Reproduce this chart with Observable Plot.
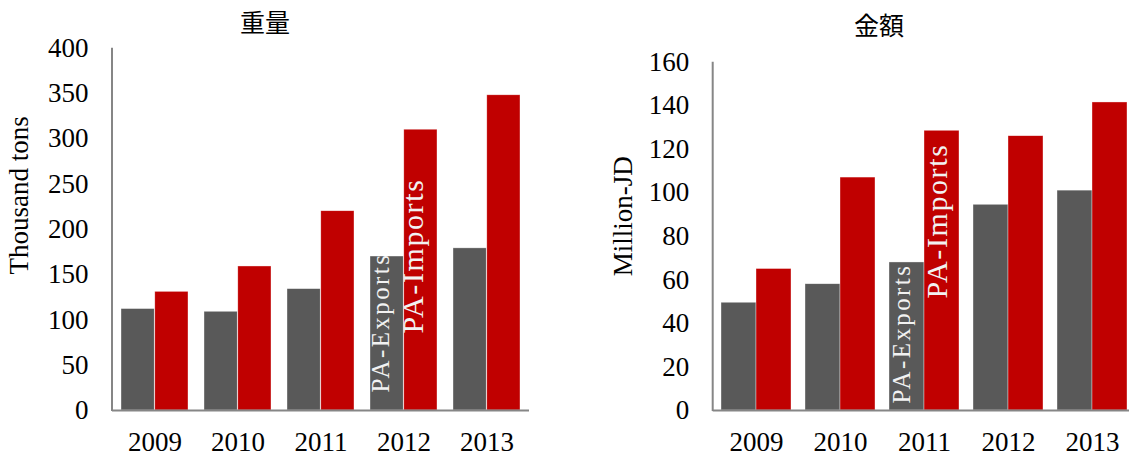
<!DOCTYPE html>
<html><head><meta charset="utf-8">
<script src="https://cdn.jsdelivr.net/npm/d3@7"></script>
<script src="https://cdn.jsdelivr.net/npm/@observablehq/plot@0.6"></script>
<style>
  body{margin:0;width:1129px;height:457px;overflow:hidden;background:#fff;position:relative;
       font-family:"Liberation Serif","Noto Sans CJK JP",serif;}
  .panel{position:absolute;top:0;}
  .title{height:30px;position:relative;}
  .title span{position:absolute;font-size:25px;line-height:30px;white-space:nowrap;transform:translateX(-50%);
       font-family:"Noto Sans CJK JP","Liberation Serif",serif;color:#000;}
  svg{max-width:none !important;display:block;overflow:visible;}
</style>
</head><body>
<div id="left" class="panel" style="left:0;width:560px"><div class="title"><span style="left:265px;top:6px">重量</span></div></div>
<div id="right" class="panel" style="left:560px;width:580px"><div class="title"><span style="left:319px;top:9px">金額</span></div></div>
<script>
const years = ["2009","2010","2011","2012","2013"];
const weightExports = [112,109,134,170,179];
const weightImports = [131,159,220,310,348];
const valueExports = [49.5,58,68,94.5,101];
const valueImports = [65,107,128.5,126,141.5];
const weightTicks = [0,50,100,150,200,250,300,350,400];
const valueTicks = [0,20,40,60,80,100,120,140,160];
const weightAxisTitle = "Thousand tons";
const valueAxisTitle = "Million-JD";
const seriesNames = ["PA-Exports","PA-Imports"];
const weightLabelYear = "2012";
const valueLabelYear = "2011";

const GRAY = "#595959", RED = "#C00000", AXIS = "#868686";

function axisLine(index, scales, values, dim) {
  const l = document.createElementNS("http://www.w3.org/2000/svg","line");
  l.setAttribute("x1", dim.marginLeft); l.setAttribute("x2", dim.marginLeft);
  l.setAttribute("y1", dim.marginTop); l.setAttribute("y2", dim.height - dim.marginBottom + 1);
  l.setAttribute("stroke", AXIS); l.setAttribute("stroke-width", 2);
  return l;
}

function panel(cfg) {
  const rows = years.map((y,i)=>({year:y, exp:cfg.exp[i], imp:cfg.imp[i]}));
  const half = cfg.half;
  const svg = Plot.plot({
    width: cfg.width, height: 427,
    marginLeft: cfg.marginLeft, marginRight: cfg.marginRight,
    marginTop: cfg.marginTop, marginBottom: 47,
    style: {fontFamily: '"Liberation Serif", serif', fontSize: "27px", color: "#000", background: "transparent"},
    x: {type: "band", domain: years, paddingInner: cfg.pi, paddingOuter: cfg.po},
    y: {domain: [0, cfg.ticks[cfg.ticks.length-1]]},
    marks: [
      Plot.barY(rows, {x: "year", y: "exp", fill: GRAY, insetRight: half, stroke: "#fff", strokeWidth: 0.6, strokeOpacity: 0.6}),
      Plot.barY(rows, {x: "year", y: "imp", fill: RED, insetLeft: half, stroke: "#fff", strokeWidth: 0.6, strokeOpacity: 0.6}),
      Plot.text([seriesNames[0]], {x: [cfg.labelYear], text: d=>d, frameAnchor: "bottom", rotate: -90, textAnchor: "start",
        dx: cfg.expDx, dy: cfg.expDy, fill: "#f2f2f2", fontSize: 25}),
      Plot.text([seriesNames[1]], {x: [cfg.labelYear], text: d=>d, frameAnchor: "bottom", rotate: -90, textAnchor: "start",
        dx: cfg.impDx, dy: cfg.impDy, fill: "#f2f2f2", fontSize: 30}),
      Plot.ruleY([0], {stroke: AXIS, strokeWidth: 2}),
      axisLine,
      Plot.axisY({ticks: cfg.ticks, tickSize: 0, tickPadding: 24, label: null, fontSize: 27}),
      Plot.axisX({tickSize: 0, tickPadding: 21, label: null, fontSize: 27}),
      Plot.text([cfg.axisTitle], {text: d=>d, frameAnchor: "left", rotate: -90, textAnchor: "middle",
        dx: cfg.titleDx, dy: cfg.titleDy, fill: "#000", fontSize: 27})
    ]
  });
  d3.select(svg).selectAll("text").each(function() {
    const t = this.textContent;
    if (t === seriesNames[0]) this.setAttribute("letter-spacing", "2.4");
    if (t === seriesNames[1]) this.setAttribute("letter-spacing", "1.6");
  });
  return svg;
}

document.getElementById("left").appendChild(panel({
  exp: weightExports, imp: weightImports, ticks: weightTicks, axisTitle: weightAxisTitle,
  width: 560, marginLeft: 112, marginRight: 31, marginTop: 17.7, pi: 0.19, po: 0.092, half: 33.8,
  labelYear: weightLabelYear, expDx: -15, expDy: -18, impDx: 19, impDy: -77, titleDx: -93, titleDy: -34
}));
document.getElementById("right").appendChild(panel({
  exp: valueExports, imp: valueImports, ticks: valueTicks, axisTitle: valueAxisTitle,
  width: 580, marginLeft: 152.7, marginRight: 5.5, marginTop: 31.7, pi: 0.17, po: 0.087, half: 35,
  labelYear: valueLabelYear, expDx: -15, expDy: -7, impDx: 22, impDy: -112, titleDx: -90, titleDy: -20
}));
</script>
</body></html>
